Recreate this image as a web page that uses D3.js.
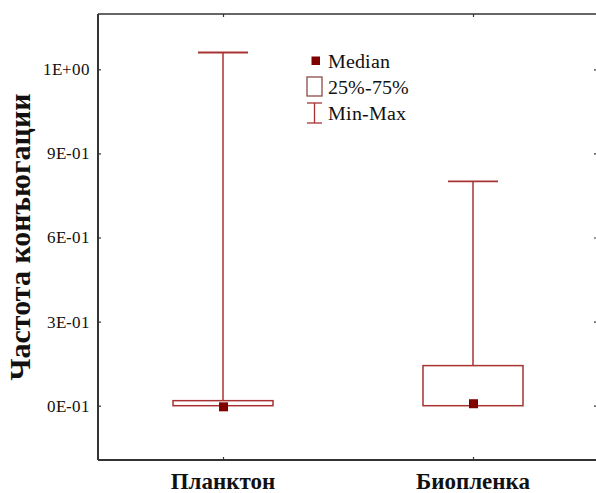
<!DOCTYPE html>
<html>
<head>
<meta charset="utf-8">
<script src="https://cdn.jsdelivr.net/npm/d3@7"></script>
<style>
  @font-face { font-family: "ChartSerif"; font-weight: 400; src: local("Liberation Serif"), local("LiberationSerif"), local("Tinos"), local("Times New Roman"); }
  @font-face { font-family: "ChartSerif"; font-weight: 700; src: local("Liberation Serif Bold"), local("LiberationSerif-Bold"), local("Tinos Bold"), local("Times New Roman Bold"); }
  html, body { margin: 0; padding: 0; background: #fff; }
  svg { display: block; }
</style>
</head>
<body>
<div id="chart"></div>
<script>
// Conjugation frequency: plankton vs biofilm
const categories = ["Планктон", "Биопленка"];
const minValues    = [0.0, 0.0];
const q1Values     = [0.0, 0.0];
const medianValues = [-0.004, 0.007];
const q3Values     = [0.018, 0.143];
const maxValues    = [1.26, 0.8];

const tickValues = [0, 0.3, 0.6, 0.9, 1.2];
const tickLabels = ["0E-01", "3E-01", "6E-01", "9E-01", "1E+00"];

const legendLabels = ["Median", "25%-75%", "Min-Max"];
const yTitle = "Частота конъюгации";

const W = 596, H = 493;
const frame = { left: 98, right: 598, top: 14, bottom: 460 };
const SERIF = 'ChartSerif, "Liberation Serif", "Times New Roman", serif';
const BOLD_FONT = '"Liberation Serif", "Times New Roman", Tinos, serif';

const lineColor = "#a83232";
const medianColor = "#800000";
const axisColor = "#333";

const svg = d3.select("#chart").append("svg")
  .attr("width", W).attr("height", H);

const x = d3.scalePoint()
  .domain(categories)
  .range([frame.left, frame.right])
  .padding(0.5);

const y = d3.scaleLinear()
  .domain([0, 1.2])
  .range([405.7, 69.3]);

const data = categories.map((c, i) => ({
  cat: c,
  min: minValues[i], q1: q1Values[i], med: medianValues[i],
  q3: q3Values[i], max: maxValues[i]
}));

const labelFmt = v => tickLabels[tickValues.indexOf(v)];

// left axis: labels outside, short ticks pointing inward
svg.append("g")
  .attr("transform", `translate(${frame.left},0)`)
  .call(d3.axisLeft(y).tickValues(tickValues).tickFormat(labelFmt).tickSize(-3).tickPadding(8))
  .call(g => g.attr("font-family", SERIF).attr("font-size", 17))
  .call(g => g.select(".domain").remove())
  .call(g => g.selectAll(".tick line").attr("stroke", axisColor).attr("stroke-width", 1.2))
  .call(g => g.selectAll(".tick text").attr("fill", "#111")
    .attr("font-family", SERIF).style("font-family", SERIF).attr("font-size", 17));

svg.append("g")
  .attr("transform", `translate(${frame.right},0)`)
  .call(d3.axisRight(y).tickValues(tickValues).tickFormat("").tickSize(-4))
  .call(g => g.select(".domain").remove())
  .call(g => g.selectAll(".tick line").attr("stroke", axisColor).attr("stroke-width", 1.2));

svg.append("g")
  .attr("transform", `translate(0,${frame.bottom})`)
  .call(d3.axisBottom(x).tickSize(-3).tickFormat(""))
  .call(g => g.select(".domain").remove())
  .call(g => g.selectAll(".tick line").attr("stroke", axisColor).attr("stroke-width", 1.2));

svg.append("g")
  .attr("transform", `translate(0,${frame.top})`)
  .call(d3.axisTop(x).tickSize(-3).tickFormat(""))
  .call(g => g.select(".domain").remove())
  .call(g => g.selectAll(".tick line").attr("stroke", axisColor).attr("stroke-width", 1.2));

// frame lines
svg.append("line").attr("x1", frame.left).attr("x2", frame.left)
  .attr("y1", frame.top).attr("y2", frame.bottom)
  .attr("stroke", axisColor).attr("stroke-width", 2);
svg.append("line").attr("x1", frame.left).attr("x2", frame.right)
  .attr("y1", frame.bottom).attr("y2", frame.bottom)
  .attr("stroke", axisColor).attr("stroke-width", 2.2);
svg.append("line").attr("x1", frame.left).attr("x2", frame.right)
  .attr("y1", frame.top).attr("y2", frame.top)
  .attr("stroke", axisColor).attr("stroke-width", 1.6);

// category labels
svg.selectAll(".cat-label").data(categories).enter().append("text")
  .attr("class", "cat-label")
  .attr("x", d => x(d)).attr("y", 489)
  .attr("text-anchor", "middle")
  .attr("fill", "#111")
  .style("font-family", BOLD_FONT).attr("font-size", 23).attr("font-weight", "bold")
  .text(d => d);

// y title
svg.append("text")
  .attr("transform", `translate(30,237) rotate(-90)`)
  .attr("text-anchor", "middle")
  .attr("fill", "#111")
  .style("font-family", BOLD_FONT).attr("font-size", 30).attr("font-weight", "bold")
  .text(yTitle);

// box plots
const boxW = 100, capW = 50, medS = 9;
const g = svg.append("g");

g.selectAll(".whisker").data(data).enter().append("line")
  .attr("x1", d => x(d.cat)).attr("x2", d => x(d.cat))
  .attr("y1", d => y(d.q3)).attr("y2", d => y(d.max))
  .attr("stroke", lineColor).attr("stroke-width", 1.5);

g.selectAll(".whisker-low").data(data).enter().append("line")
  .attr("x1", d => x(d.cat)).attr("x2", d => x(d.cat))
  .attr("y1", d => y(d.min)).attr("y2", d => y(d.q1))
  .attr("stroke", lineColor).attr("stroke-width", 1.5);

g.selectAll(".cap").data(data).enter().append("line")
  .attr("x1", d => x(d.cat) - capW / 2).attr("x2", d => x(d.cat) + capW / 2)
  .attr("y1", d => y(d.max)).attr("y2", d => y(d.max))
  .attr("stroke", lineColor).attr("stroke-width", 1.8);

g.selectAll(".box").data(data).enter().append("rect")
  .attr("x", d => x(d.cat) - boxW / 2).attr("width", boxW)
  .attr("y", d => y(d.q3)).attr("height", d => y(d.q1) - y(d.q3))
  .attr("fill", "none").attr("stroke", lineColor).attr("stroke-width", 1.5);

g.selectAll(".median").data(data).enter().append("rect")
  .attr("x", d => x(d.cat) - medS / 2 + 0.5).attr("width", medS)
  .attr("y", d => y(d.med) - medS / 2).attr("height", medS)
  .attr("fill", medianColor);

// legend
const lg = svg.append("g").attr("transform", "translate(314,0)");
const rowY = [61, 87, 113];
lg.append("rect").attr("x", -2.5).attr("y", rowY[0] - 4.5).attr("width", 8.5).attr("height", 8.5)
  .attr("fill", medianColor);
lg.append("rect").attr("x", -7).attr("y", rowY[1] - 10).attr("width", 15).attr("height", 19)
  .attr("fill", "none").attr("stroke", "#8b4a4a").attr("stroke-width", 1.3);
lg.append("line").attr("x1", 0.5).attr("x2", 0.5).attr("y1", rowY[2] - 10).attr("y2", rowY[2] + 10)
  .attr("stroke", lineColor).attr("stroke-width", 1.3);
lg.append("line").attr("x1", -7).attr("x2", 8).attr("y1", rowY[2] - 10).attr("y2", rowY[2] - 10)
  .attr("stroke", lineColor).attr("stroke-width", 1.3);
lg.append("line").attr("x1", -7).attr("x2", 8).attr("y1", rowY[2] + 10).attr("y2", rowY[2] + 10)
  .attr("stroke", lineColor).attr("stroke-width", 1.3);
lg.selectAll(".lg-text").data(legendLabels).enter().append("text")
  .attr("x", 14).attr("y", (d, i) => rowY[i] + 6.5)
  .attr("fill", "#111")
  .attr("font-family", SERIF).style("font-family", SERIF).attr("font-size", 20)
  .text(d => d);
</script>
</body>
</html>
